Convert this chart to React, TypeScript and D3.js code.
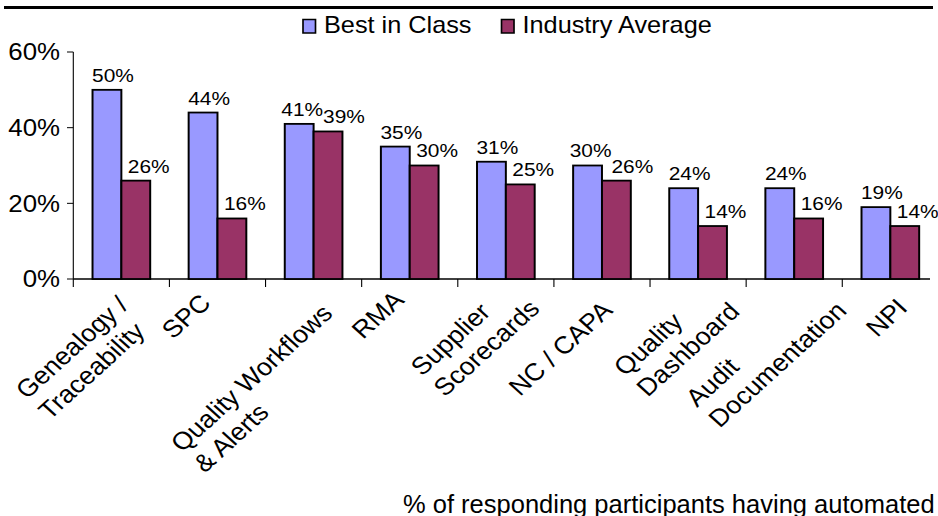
import React, { useEffect, useRef } from "react";
import * as d3 from "d3";

// ---- data ----
const categories: string[][] = [
  ["Genealogy /", "Traceability"],
  ["SPC"],
  ["Quality Workflows", "& Alerts"],
  ["RMA"],
  ["Supplier", "Scorecards"],
  ["NC / CAPA"],
  ["Quality", "Dashboard"],
  ["Audit", "Documentation"],
  ["NPI"],
];
const bestInClass = [50, 44, 41, 35, 31, 30, 24, 24, 19];
const industryAverage = [26, 16, 39, 30, 25, 26, 14, 16, 14];
const seriesNames = ["Best in Class", "Industry Average"];
const yTicks = [0, 20, 40, 60];
const footnote = "% of responding participants having automated";

// ---- layout (not data) ----
const W = 938;
const H = 516;
const S = 1.1; // horizontal stretch of the chart body
const FONT = "'Liberation Sans', Arial, Helvetica, sans-serif";
const colors = ["#9999FF", "#993366"];
// start of first label line, relative to band centre (px) and absolute y
const labelStartDx = [-94.4, -44.5, -131.6, -46.7, -83.8, -81.9, -73, -97.1, -13.2];
const labelStartY = [400, 340, 453, 340, 377, 397, 377, 408, 338];

export default function App() {
  const ref = useRef<SVGGElement | null>(null);

  useEffect(() => {
    const g = d3.select(ref.current);
    g.selectAll("*").remove();
    const px = (v: number) => v / S;

    const idx = categories.map((_, i) => i);
    const x = d3.scaleBand<number>().domain(idx).range([px(73.3), px(938.4)]).padding(0);
    const y = d3.scaleLinear().domain([0, 60]).range([279, 52]);
    const bw = x.bandwidth() * 0.3;
    const center = (i: number) => (x(i) as number) + x.bandwidth() / 2;

    // y axis
    g.append("line")
      .attr("x1", px(73.3)).attr("x2", px(73.3))
      .attr("y1", y(60)).attr("y2", 287)
      .attr("stroke", "#000").attr("stroke-width", 1);
    yTicks.forEach((t) => {
      g.append("line")
        .attr("x1", px(67)).attr("x2", px(73.3))
        .attr("y1", y(t)).attr("y2", y(t))
        .attr("stroke", "#000").attr("stroke-width", 1);
      g.append("text")
        .attr("x", px(60)).attr("y", y(t) + 8.5)
        .attr("text-anchor", "end")
        .attr("font-family", FONT).attr("font-size", 23.5)
        .text(`${t}%`);
    });

    // x axis
    g.append("line")
      .attr("x1", px(73.3)).attr("x2", px(930))
      .attr("y1", y(0)).attr("y2", y(0))
      .attr("stroke", "#000").attr("stroke-width", 1.5);
    idx.forEach((i) => {
      if (i === 0) return;
      const xx = x(i) as number;
      g.append("line")
        .attr("x1", xx).attr("x2", xx)
        .attr("y1", y(0)).attr("y2", 287)
        .attr("stroke", "#000").attr("stroke-width", 1);
    });

    // bars
    const series = [bestInClass, industryAverage];
    series.forEach((vals, s) => {
      g.selectAll(`rect.s${s}`)
        .data(vals)
        .enter()
        .append("rect")
        .attr("class", `s${s}`)
        .attr("x", (_, i) => center(i) - bw + s * bw)
        .attr("y", (d) => y(d))
        .attr("width", bw)
        .attr("height", (d) => y(0) - y(d))
        .attr("fill", colors[s])
        .attr("stroke", "#000")
        .attr("stroke-width", 1.8);
    });

    // data labels
    const lfs = 19;
    const lw = lfs * 2.0;
    idx.forEach((i) => {
      const b = bestInClass[i];
      const a = industryAverage[i];
      let cb = center(i) - bw / 2 + px(6);
      let ca = center(i) + bw / 2 + px(13);
      const yb = y(b) - 8;
      const ya = y(a) - 8;
      if (Math.abs(yb - ya) < 18) {
        const overlap = cb + lw / 2 - (ca - lw / 2);
        if (overlap > 0) {
          cb -= overlap / 2;
          ca += overlap / 2;
        }
      }
      [[cb, yb, b], [ca, ya, a]].forEach(([cx, cy, v]) => {
        g.append("text")
          .attr("x", cx).attr("y", cy)
          .attr("text-anchor", "middle")
          .attr("font-family", FONT).attr("font-size", lfs)
          .text(`${v}%`);
      });
    });

    // category labels (lines left-aligned in the rotated frame)
    const cfs = 24.5;
    const lh = 29.2;
    idx.forEach((i) => {
      const lg = g.append("g")
        .attr("transform", `translate(${px(center(i) * S + labelStartDx[i])},${labelStartY[i]}) rotate(-45)`);
      categories[i].forEach((ln, k) => {
        lg.append("text")
          .attr("x", 0).attr("y", k * lh)
          .attr("font-family", FONT).attr("font-size", cfs)
          .text(ln);
      });
    });

    // legend
    let cur = 303;
    seriesNames.forEach((name, s) => {
      g.append("rect")
        .attr("x", px(cur)).attr("y", 19.5)
        .attr("width", px(12.5)).attr("height", 13.5)
        .attr("fill", colors[s]).attr("stroke", "#000").attr("stroke-width", 1.5);
      const t = g.append("text")
        .attr("x", px(cur + 21)).attr("y", 33)
        .attr("font-family", FONT).attr("font-size", 23)
        .text(name);
      const len = (t.node() as SVGTextElement).getComputedTextLength();
      cur = cur + 21 + len * S + 30;
    });
  }, []);

  return (
    <svg
      width={W}
      height={H}
      style={{ position: "absolute", left: 0, top: 0, display: "block" }}
    >
      <rect x={0} y={0} width={W} height={H} fill="#fff" />
      <line x1={4} x2={933} y1={7.5} y2={7.5} stroke="#000" strokeWidth={3} />
      <text x={403} y={513} fontFamily={FONT} fontSize={25.5} fill="#000">
        {footnote}
      </text>
      <g ref={ref} transform={`scale(${S},1)`} />
    </svg>
  );
}
